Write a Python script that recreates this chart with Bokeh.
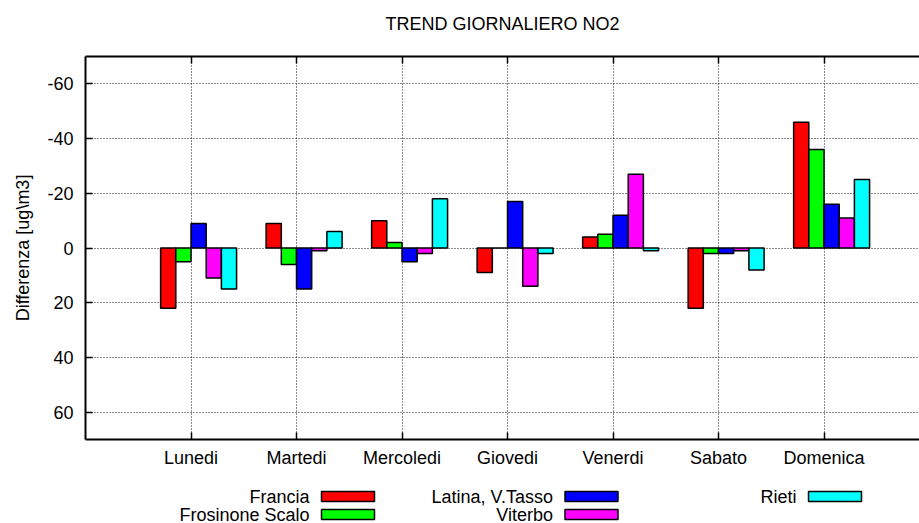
from bokeh.plotting import figure
from bokeh.models import Range1d, FixedTicker, LinearAxis, ColumnDataSource, CustomLabelingPolicy
from bokeh.layouts import column
from bokeh.transform import dodge
from bokeh.core.properties import value
from bokeh.embed import file_html
from bokeh.resources import INLINE

# ---- data ----
days = ["Lunedi", "Martedi", "Mercoledi", "Giovedi", "Venerdi", "Sabato", "Domenica"]
stations = ["Francia", "Frosinone Scalo", "Latina, V.Tasso", "Viterbo", "Rieti"]
francia = [22, -9, -10, 9, -4, 22, -46]
frosinone = [5, 6, -2, 0, -5, 2, -36]
latina = [-9, 15, 5, -17, -12, 2, -16]
viterbo = [11, 1, 2, 14, -27, 1, -11]
rieti = [15, -6, -18, 2, 1, 8, -25]
y_ticks = [-60, -40, -20, 0, 20, 40, 60]
y_tick_labels = ["-60", "-40", "-20", "0", "20", "40", "60"]
colors = ["#ff0000", "#00ff00", "#0000ff", "#ff00ff", "#00ffff"]

series = [francia, frosinone, latina, viterbo, rieti]
FONT = "Liberation Sans"
FS = "18px"
W = 919

positions = list(range(1, len(days) + 1))
src = ColumnDataSource(dict(pos=positions,
                            **{f"s{i}": s for i, s in enumerate(series)}))

p = figure(width=W, height=478,
           x_range=Range1d(0, 7.905), y_range=Range1d(70, -70),
           output_backend="svg", toolbar_location=None,
           min_border_left=85, min_border_right=0,
           min_border_top=51, min_border_bottom=39)
p.outline_line_color = None
p.background_fill_color = "white"
p.border_fill_color = "white"

p.title.text = "TREND GIORNALIERO NO2"
p.title.align = "center"
p.title.offset = 4
p.title.standoff = 23
p.title.text_font = FONT
p.title.text_font_size = FS
p.title.text_font_style = "normal"
p.title.text_color = "black"

xticker = FixedTicker(ticks=positions)
yticker = FixedTicker(ticks=y_ticks)

for ax in (p.xaxis[0], p.yaxis[0]):
    ax.axis_line_color = "black"
    ax.axis_line_width = 2
    ax.major_tick_in = 7
    ax.major_tick_out = 0
    ax.minor_tick_line_color = None
    ax.major_tick_line_color = "black"
    ax.major_tick_line_width = 1.5
    ax.major_label_text_font = FONT
    ax.major_label_text_font_size = FS
    ax.major_label_text_color = "black"

p.xaxis[0].ticker = xticker
p.xaxis[0].major_label_overrides = {d: n for d, n in zip(positions, days)}
p.xaxis[0].major_label_standoff = 8

p.yaxis[0].ticker = yticker
p.yaxis[0].major_label_overrides = {t: s for t, s in zip(y_ticks, y_tick_labels)}
p.yaxis[0].major_label_standoff = 12
p.yaxis[0].axis_label = "Differenza [ug\\m3]"
p.yaxis[0].axis_label_text_font = FONT
p.yaxis[0].axis_label_text_font_size = FS
p.yaxis[0].axis_label_text_font_style = "normal"
p.yaxis[0].axis_label_text_color = "black"
p.yaxis[0].axis_label_standoff = 11

no_labels = CustomLabelingPolicy(code="""
    for (const i of indices)
        indices.unset(i)
    return indices
""")
top = LinearAxis(ticker=xticker, axis_line_color="black", axis_line_width=2,
                 major_tick_in=7, major_tick_out=0, major_tick_line_width=1.5,
                 minor_tick_line_color=None, major_label_policy=no_labels,
                 major_label_standoff=0)
p.add_layout(top, "above")

p.xgrid.ticker = xticker
p.ygrid.ticker = yticker
for g in (p.xgrid[0], p.ygrid[0]):
    g.grid_line_color = "black"
    g.grid_line_dash = "1 2"
    g.grid_line_width = 1
    g.grid_line_alpha = 0.9

w = 0.144
for i, (name, c) in enumerate(zip(stations, colors)):
    p.vbar(x=dodge("pos", (i - 1.5) * w), top=f"s{i}", bottom=0, width=w,
           source=src, fill_color=c, line_color="black", line_width=1.5)

# ---- legend (gnuplot style: label right-aligned, sample box on the right) ----
leg = figure(width=W, height=45, x_range=Range1d(85, W), y_range=Range1d(523, 478),
             output_backend="svg", toolbar_location=None,
             x_axis_type=None, y_axis_type=None,
             min_border_left=85, min_border_right=0, min_border_top=0, min_border_bottom=0)
leg.outline_line_color = None
leg.xgrid.visible = False
leg.ygrid.visible = False

for i, (name, c) in enumerate(zip(stations, colors)):
    col, row = i // 2, i % 2
    box_left = 321 + col * 243.5
    cy = 496 + row * 18
    leg.rect(x=[box_left + 26.5], y=[cy], width=53, height=10,
             fill_color=c, line_color="black", line_width=1.5)
    leg.text(x=[box_left - 12], y=[cy], text=[name], text_align="right",
             text_baseline="middle", text_font=value(FONT), text_font_size=FS,
             text_color="black")

layout = column(p, leg, spacing=0)
open("out.html", "w").write(file_html(layout, INLINE))
